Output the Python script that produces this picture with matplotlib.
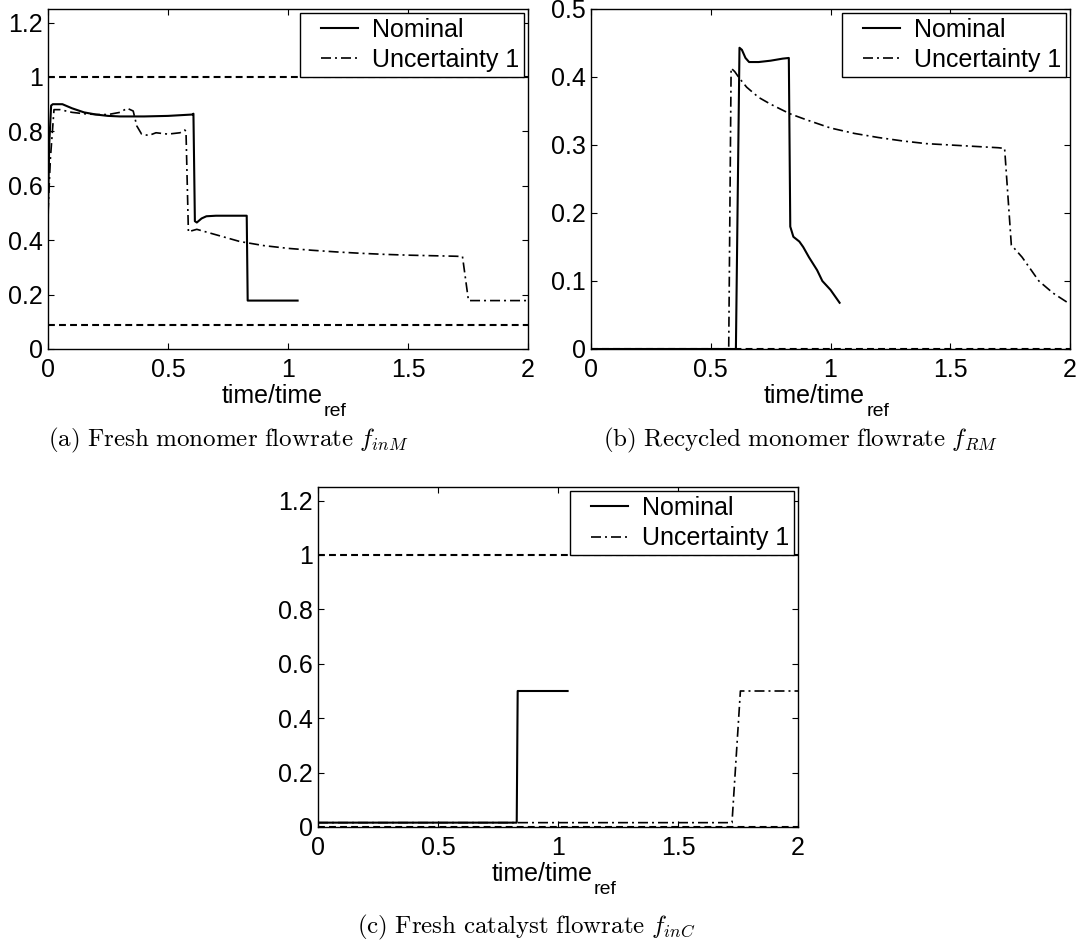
import matplotlib
matplotlib.use("Agg")
import numpy as np
import matplotlib.pyplot as plt
from matplotlib.transforms import offset_copy

plt.rcParams['font.family'] = ['Liberation Sans', 'DejaVu Sans']

# (a) fresh monomer flowrate
a_nom_t = [0, 0.005, 0.013, 0.02, 0.06, 0.1, 0.15, 0.2, 0.25, 0.3, 0.4, 0.5, 0.6, 0.606,
           0.612, 0.62, 0.64, 0.66, 0.7, 0.8, 0.828, 0.832, 0.9, 1.0, 1.04]
a_nom_v = [0.5, 0.75, 0.895, 0.9, 0.9, 0.885, 0.87, 0.862, 0.857, 0.855, 0.855, 0.857, 0.862, 0.865,
           0.47, 0.465, 0.48, 0.488, 0.49, 0.49, 0.49, 0.178, 0.178, 0.178, 0.178]
a_unc_t = [0, 0.01, 0.025, 0.05, 0.1, 0.15, 0.2, 0.25, 0.3, 0.33, 0.355, 0.37, 0.39, 0.42, 0.45,
           0.5, 0.55, 0.57, 0.575, 0.585, 0.6, 0.62, 0.7, 0.8, 0.9, 1.0, 1.1, 1.2, 1.3, 1.4, 1.5,
           1.6, 1.7, 1.727, 1.752, 1.8, 1.9, 2.0]
a_unc_v = [0.5, 0.7, 0.88, 0.88, 0.87, 0.865, 0.862, 0.862, 0.87, 0.885, 0.875, 0.82, 0.79, 0.785, 0.795,
           0.79, 0.795, 0.805, 0.80, 0.43, 0.435, 0.44, 0.42, 0.395, 0.38, 0.37, 0.363, 0.357, 0.352, 0.348, 0.345,
           0.343, 0.341, 0.34, 0.178, 0.178, 0.178, 0.178]
a_bounds = [1.0, 0.088]

# (b) recycled monomer flowrate
b_nom_t = [0, 0.605, 0.62, 0.63, 0.645, 0.66, 0.7, 0.75, 0.8, 0.826, 0.832, 0.845, 0.87, 0.886,
           0.91, 0.944, 0.966, 1.0, 1.038]
b_nom_v = [0, 0, 0.443, 0.44, 0.428, 0.422, 0.422, 0.424, 0.427, 0.428, 0.18, 0.165, 0.158, 0.15,
           0.135, 0.116, 0.1, 0.087, 0.068]
b_unc_t = [0, 0.575, 0.585, 0.6, 0.62, 0.65, 0.7, 0.75, 0.83, 0.9, 1.0, 1.1, 1.2, 1.3, 1.4, 1.5,
           1.6, 1.7, 1.727, 1.755, 1.8, 1.87, 1.93, 2.0]
b_unc_v = [0, 0, 0.413, 0.408, 0.398, 0.385, 0.37, 0.36, 0.346, 0.337, 0.325, 0.317, 0.311, 0.306, 0.302, 0.3,
           0.298, 0.296, 0.295, 0.153, 0.135, 0.1, 0.082, 0.066]
b_bounds = [0.0]

# (c) fresh catalyst flowrate
c_nom_t = [0, 0.828, 0.832, 1.04]
c_nom_v = [0.016, 0.016, 0.5, 0.5]
c_unc_t = [0, 1.725, 1.76, 2.0]
c_unc_v = [0.016, 0.016, 0.5, 0.5]
c_bounds = [1.0, 0.0]

W, H = 1085, 949
fig = plt.figure(figsize=(W / 100, H / 100), dpi=100)

yt_big = [0, 0.2, 0.4, 0.6, 0.8, 1, 1.2]
yl_big = ['0', '0.2', '0.4', '0.6', '0.8', '1', '1.2']
panels = [
    ((48, 528, 9, 349), a_nom_t, a_nom_v, a_unc_t, a_unc_v, a_bounds, 1.25, yt_big, yl_big),
    ((591, 1070, 9, 349), b_nom_t, b_nom_v, b_unc_t, b_unc_v, b_bounds, 0.5,
     [0, 0.1, 0.2, 0.3, 0.4, 0.5], ['0', '0.1', '0.2', '0.3', '0.4', '0.5']),
    ((318, 798, 487, 827), c_nom_t, c_nom_v, c_unc_t, c_unc_v, c_bounds, 1.25, yt_big, yl_big),
]

FS = 18
dashdot = (0, (6, 2.4, 1.2, 2.4))
for (x0, x1, y0, y1), nt, nv, ut, uv, bounds, ymax, yt, ytl in panels:
    ax = fig.add_axes([x0 / W, 1 - y1 / H, (x1 - x0) / W, (y1 - y0) / H])
    ax.plot(nt, nv, color='black', lw=1.5, label='Nominal')
    ax.plot(ut, uv, color='black', lw=1.2, linestyle=dashdot, label='Uncertainty 1')
    for b in bounds:
        ax.axhline(b, color='black', lw=1.5, linestyle=(0, (3.3, 2)))
    ax.set_xlim(0, 2)
    ax.set_ylim(0, ymax)
    ax.set_xticks([0, 0.5, 1, 1.5, 2])
    ax.set_xticklabels(['0', '0.5', '1', '1.5', '2'])
    ax.set_yticks(yt)
    ax.set_yticklabels(ytl)
    ax.tick_params(direction='in', top=True, right=True, length=4, width=0.8, labelsize=FS)
    ax.tick_params(axis='x', pad=6.5)
    ax.tick_params(axis='y', pad=3.5)
    for s in ax.spines.values():
        s.set_linewidth(1.0)

    # x label "time/time_ref", MATLAB puts the subscript well below the baseline
    ax.text(0.5, 0, 'time/time', fontsize=FS, ha='center', va='baseline',
            transform=offset_copy(ax.transAxes, fig=fig, x=-16, y=-54, units='dots'))
    ax.text(0.5, 0, 'ref', fontsize=14, ha='left', va='baseline',
            transform=offset_copy(ax.transAxes, fig=fig, x=36, y=-67, units='dots'))

    leg = ax.legend(loc='upper right', fontsize=FS, fancybox=False, edgecolor='black',
                    framealpha=1, borderaxespad=0.16, borderpad=0.2, labelspacing=0.25,
                    handlelength=2.1, handletextpad=0.56)
    leg.get_frame().set_linewidth(1.0)
    # MATLAB-style inset of the legend sample lines
    for ln in leg.get_lines():
        xd = np.asarray(ln.get_xdata(), dtype=float)
        ln.set_xdata(np.linspace(xd[0] + 11, xd[-1], len(xd)))

captions = [
    (228, 440, r'$\mathrm{(a)\ Fresh\ monomer\ flowrate}\ f_{inM}$'),
    (800, 440, r'$\mathrm{(b)\ Recycled\ monomer\ flowrate}\ f_{RM}$'),
    (526, 927, r'$\mathrm{(c)\ Fresh\ catalyst\ flowrate}\ f_{inC}$'),
]
for cx, cy, txt in captions:
    fig.text(cx / W, 1 - cy / H, txt, ha='center', va='center', fontsize=FS, math_fontfamily='cm')

fig.savefig('out.png', dpi=100)
